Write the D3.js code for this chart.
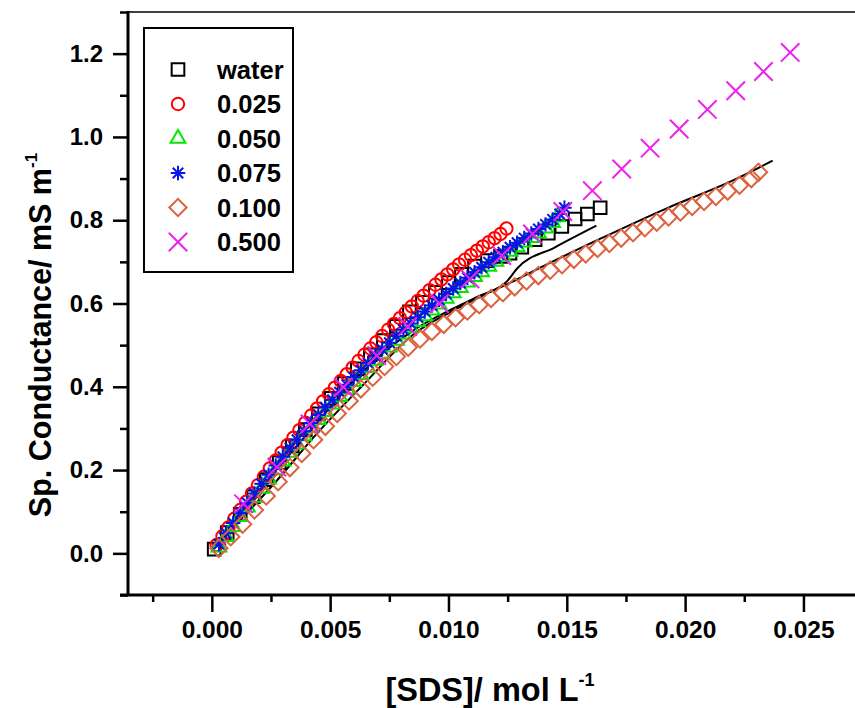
<!DOCTYPE html>
<html>
<head>
<meta charset="utf-8">
<script src="https://cdn.jsdelivr.net/npm/d3@7"></script>
<style>
  body { margin: 0; background: #fff; }
  svg { display: block; }
  text { font-family: "Liberation Sans", Arial, sans-serif; font-weight: bold; }
</style>
</head>
<body>
<svg id="chart" width="855" height="708"></svg>
<script>
// legend labels, in drawing order
var seriesNames = ['water', '0.025', '0.050', '0.075', '0.100', '0.500']

var yMajor = [0, 0.2, 0.4, 0.6, 0.8, 1.0, 1.2]
var yMinor = [-0.1, 0.1, 0.3, 0.5, 0.7, 0.9, 1.1, 1.3]
var xMajor = [0, 0.005, 0.010, 0.015, 0.020, 0.025]
var xMinor = [-0.0025, 0.0025, 0.0075, 0.0125, 0.0175, 0.0225]

// water
var waterX = [0.0001, 0.00065, 0.0012, 0.00175, 0.0023, 0.00285, 0.0034, 0.00395, 0.0045, 0.00505,
  0.0056, 0.00615, 0.0067, 0.00725, 0.0078, 0.00835, 0.0089, 0.00945, 0.0100, 0.01055,
  0.0111, 0.01165, 0.0122, 0.0126, 0.0131, 0.01366, 0.01422, 0.01479, 0.01535, 0.01587, 0.01641]
var waterY = [0.01, 0.05, 0.094, 0.136, 0.177, 0.218, 0.258, 0.297, 0.335, 0.372,
  0.408, 0.443, 0.477, 0.511, 0.545, 0.58, 0.603, 0.627, 0.65, 0.67,
  0.69, 0.703, 0.713, 0.721, 0.735, 0.753, 0.769, 0.785, 0.803, 0.815, 0.830]

// 0.025
var s025X = [0.0002, 0.00045, 0.0007, 0.00095, 0.0012, 0.00145, 0.0017, 0.00195, 0.0022, 0.00245,
  0.0027, 0.00295, 0.0032, 0.00345, 0.0037, 0.00395, 0.0042, 0.00445, 0.0047, 0.00495,
  0.0052, 0.00545, 0.0057, 0.00595, 0.0062, 0.00645, 0.0067, 0.00695, 0.0072, 0.00745,
  0.0077, 0.00795, 0.0082, 0.00845, 0.0087, 0.00895, 0.0092, 0.00945, 0.0097, 0.00995,
  0.0102, 0.01045, 0.0107, 0.01095, 0.0112, 0.01145, 0.0117, 0.01195, 0.0122, 0.01245]
var s025Y = [0.02, 0.041, 0.062, 0.083, 0.104, 0.124, 0.144, 0.164, 0.184, 0.204,
  0.223, 0.242, 0.26, 0.278, 0.296, 0.314, 0.331, 0.348, 0.365, 0.382,
  0.398, 0.414, 0.43, 0.446, 0.462, 0.477, 0.492, 0.507, 0.522, 0.537,
  0.551, 0.565, 0.579, 0.593, 0.606, 0.619, 0.632, 0.645, 0.658, 0.67,
  0.682, 0.694, 0.705, 0.716, 0.727, 0.737, 0.747, 0.757, 0.767, 0.78]

// 0.050
var s050X = [0.0003, 0.0006, 0.0009, 0.0012, 0.0015, 0.0018, 0.0021, 0.0024, 0.0027, 0.003,
  0.0033, 0.0036, 0.0039, 0.0042, 0.0045, 0.0048, 0.0051, 0.0054, 0.0057, 0.006,
  0.0063, 0.0066, 0.0069, 0.0072, 0.0075, 0.0078, 0.0081, 0.0084, 0.0087, 0.009,
  0.0093, 0.0096, 0.0099, 0.0102, 0.0105, 0.0108, 0.0111, 0.0114, 0.0117, 0.012,
  0.0123, 0.0126, 0.0129, 0.0132, 0.0135, 0.0138, 0.0141, 0.0144, 0.0146]
var s050Y = [0.015, 0.04, 0.064, 0.088, 0.111, 0.134, 0.156, 0.178, 0.2, 0.221,
  0.242, 0.262, 0.282, 0.302, 0.321, 0.34, 0.358, 0.376, 0.394, 0.412,
  0.429, 0.446, 0.463, 0.479, 0.495, 0.511, 0.526, 0.541, 0.556, 0.57,
  0.584, 0.598, 0.612, 0.625, 0.638, 0.651, 0.664, 0.676, 0.689, 0.701,
  0.713, 0.725, 0.736, 0.747, 0.758, 0.769, 0.781, 0.794, 0.808]

// 0.075
var s075X = [0.0003, 0.0006, 0.0009, 0.0012, 0.0015, 0.0018, 0.0021, 0.0024, 0.0027, 0.003,
  0.0033, 0.0036, 0.0039, 0.0042, 0.0045, 0.0048, 0.0051, 0.0054, 0.0057, 0.006,
  0.0063, 0.0066, 0.0069, 0.0072, 0.0075, 0.0078, 0.0081, 0.0084, 0.0087, 0.009,
  0.0093, 0.0096, 0.0099, 0.0102, 0.0105, 0.0108, 0.0111, 0.0114, 0.0117, 0.012,
  0.0123, 0.0126, 0.0129, 0.0132, 0.0135, 0.0138, 0.0141, 0.0144, 0.0147, 0.0149]
var s075Y = [0.022, 0.048, 0.073, 0.097, 0.121, 0.144, 0.167, 0.189, 0.211, 0.232,
  0.253, 0.273, 0.293, 0.313, 0.332, 0.351, 0.369, 0.387, 0.405, 0.423,
  0.44, 0.457, 0.474, 0.49, 0.506, 0.522, 0.537, 0.552, 0.567, 0.581,
  0.595, 0.609, 0.623, 0.636, 0.649, 0.662, 0.675, 0.687, 0.699, 0.711,
  0.723, 0.735, 0.746, 0.757, 0.768, 0.779, 0.79, 0.802, 0.815, 0.83]

// 0.100
var s100X = [0.0003, 0.0008, 0.0013, 0.0018, 0.0023, 0.0028, 0.0033, 0.0038, 0.0043, 0.0048,
  0.0053, 0.0058, 0.0063, 0.0068, 0.0073, 0.0078, 0.0083, 0.0088, 0.0093, 0.0098,
  0.0103, 0.0108, 0.0113, 0.0118, 0.0123, 0.0128, 0.0133, 0.0138, 0.0143, 0.0148,
  0.0153, 0.0158, 0.0163, 0.0168, 0.0173, 0.0178, 0.0183, 0.0188, 0.0193, 0.0198,
  0.0203, 0.0208, 0.0213, 0.0218, 0.0223, 0.0228, 0.0231]
var s100Y = [0.012, 0.04, 0.07, 0.104, 0.138, 0.172, 0.206, 0.24, 0.273, 0.305,
  0.336, 0.366, 0.395, 0.423, 0.449, 0.473, 0.495, 0.515, 0.533, 0.55,
  0.566, 0.582, 0.597, 0.612, 0.626, 0.64, 0.654, 0.667, 0.68, 0.693,
  0.706, 0.719, 0.732, 0.744, 0.757, 0.77, 0.782, 0.795, 0.808, 0.82,
  0.833, 0.845, 0.857, 0.87, 0.884, 0.90, 0.915]

// 0.500
var s500X = [0.00134, 0.00275, 0.00415, 0.00556, 0.00697, 0.00828, 0.00962, 0.01091, 0.01225, 0.01355,
  0.01483, 0.01608, 0.01732, 0.01852, 0.01975, 0.02094, 0.02214, 0.02331, 0.02444]
var s500Y = [0.119, 0.207, 0.311, 0.399, 0.475, 0.545, 0.600, 0.659, 0.715, 0.767,
  0.821, 0.871, 0.923, 0.973, 1.019, 1.066, 1.111, 1.157, 1.203]

// fitted curves (black lines)
var fitAX = [0, 0.00275, 0.0044, 0.0064, 0.0085, 0.0101, 0.0113, 0.0128, 0.0142, 0.0164, 0.0192, 0.0220, 0.0237]
var fitAY = [0.01, 0.175, 0.285, 0.405, 0.525, 0.58, 0.615, 0.655, 0.695, 0.755, 0.828, 0.895, 0.943]
var fitBX = [0, 0.004, 0.0072, 0.0085, 0.0101, 0.0113, 0.0125, 0.0129, 0.0145, 0.01625]
var fitBY = [0.01, 0.285, 0.48, 0.535, 0.585, 0.618, 0.655, 0.684, 0.735, 0.787]

function zip(xs, ys) { return xs.map((x, i) => ({ x: x, y: ys[i] })) }

var crossType = {
  draw(ctx, size) {
    var r = Math.sqrt(size) / 2
    ctx.moveTo(-r, -r); ctx.lineTo(r, r)
    ctx.moveTo(-r, r); ctx.lineTo(r, -r)
  }
}
var starType = {
  draw(ctx, size) {
    var r = Math.sqrt(size) / 2, d = r * 0.72
    ctx.moveTo(0, -r); ctx.lineTo(0, r)
    ctx.moveTo(-r, 0); ctx.lineTo(r, 0)
    ctx.moveTo(-d, -d); ctx.lineTo(d, d)
    ctx.moveTo(-d, d); ctx.lineTo(d, -d)
  }
}

var series = [
  { data: zip(waterX, waterY), color: '#000000', type: d3.symbolSquare, size: 160, rot: 0 },
  { data: zip(s025X, s025Y), color: '#ff0000', type: d3.symbolCircle, size: 120, rot: 0 },
  { data: zip(s050X, s050Y), color: '#00e800', type: d3.symbolTriangle, size: 95, rot: 0 },
  { data: zip(s075X, s075Y), color: '#0a14e6', type: starType, size: 210, rot: 0 },
  { data: zip(s100X, s100Y), color: '#dc6240', type: d3.symbolSquare, size: 150, rot: 45 },
  { data: zip(s500X, s500Y), color: '#ee22ee', type: crossType, size: 340, rot: 0 }
]

var svg = d3.select('#chart')
var xScale = d3.scaleLinear().domain([-0.0035, 0.0275]).range([129, 862.6])
var yScale = d3.scaleLinear().domain([-0.1, 1.3]).range([595, 12])

// top frame line
svg.append('line')
  .attr('x1', 128).attr('x2', 862).attr('y1', yScale(1.3)).attr('y2', yScale(1.3))
  .attr('stroke', '#000').attr('stroke-width', 1.5)

// y axis
var yAxisG = svg.append('g').attr('transform', 'translate(128,0)')
yAxisG.append('g').call(d3.axisLeft(yScale).tickValues(yMinor).tickSize(8).tickSizeOuter(0).tickFormat(''))
yAxisG.append('g').call(d3.axisLeft(yScale).tickValues(yMajor).tickSize(15).tickSizeOuter(0)
  .tickPadding(10).tickFormat(d3.format('.1f')))
yAxisG.selectAll('.domain').remove()
yAxisG.selectAll('.tick line').attr('stroke-width', 2.5)
yAxisG.selectAll('.tick text').attr('font-size', 24).attr('fill', '#000')
  .style('font-family', '"Liberation Sans", Arial, sans-serif').style('font-weight', 'bold')
yAxisG.append('line').attr('x1', 0).attr('x2', 0).attr('y1', yScale(1.3) - 1).attr('y2', yScale(-0.1) + 1)
  .attr('stroke', '#000').attr('stroke-width', 3)

// x axis
var xAxisG = svg.append('g').attr('transform', 'translate(0,' + yScale(-0.1) + ')')
xAxisG.append('g').call(d3.axisBottom(xScale).tickValues(xMinor).tickSize(7).tickSizeOuter(0).tickFormat(''))
xAxisG.append('g').call(d3.axisBottom(xScale).tickValues(xMajor).tickSize(17).tickSizeOuter(0)
  .tickPadding(9).tickFormat(d3.format('.3f')))
xAxisG.selectAll('.domain').remove()
xAxisG.selectAll('.tick line').attr('stroke-width', 2.5)
xAxisG.selectAll('.tick text').attr('font-size', 24.5).attr('fill', '#000')
  .style('font-family', '"Liberation Sans", Arial, sans-serif').style('font-weight', 'bold')
xAxisG.append('line').attr('x1', 120).attr('x2', 862).attr('y1', 0).attr('y2', 0)
  .attr('stroke', '#000').attr('stroke-width', 3)

var plot = svg.append('g')

// fit lines (under the markers)
var line = d3.line().x(d => xScale(d.x)).y(d => yScale(d.y)).curve(d3.curveMonotoneX)
;[zip(fitAX, fitAY), zip(fitBX, fitBY)].forEach(function (f) {
  plot.append('path').attr('d', line(f)).attr('fill', 'none').attr('stroke', '#000').attr('stroke-width', 2)
})

// markers
series.forEach(function (s) {
  var sym = d3.symbol().type(s.type).size(s.size)
  plot.append('g').selectAll('path')
    .data(s.data)
    .enter()
    .append('path')
    .attr('d', sym)
    .attr('transform', d => 'translate(' + xScale(d.x) + ',' + yScale(d.y) + ') rotate(' + s.rot + ')')
    .attr('fill', 'none')
    .attr('stroke', s.color)
    .attr('stroke-width', 2)
})

// legend
var legend = svg.append('g')
legend.append('rect').attr('x', 144).attr('y', 28).attr('width', 149).attr('height', 244)
  .attr('fill', '#fff').attr('stroke', '#000').attr('stroke-width', 2)
series.forEach(function (s, i) {
  var cy = 69.5 + i * 34.5
  legend.append('path')
    .attr('d', d3.symbol().type(s.type).size(s.size)())
    .attr('transform', 'translate(178,' + cy + ') rotate(' + s.rot + ')')
    .attr('fill', 'none').attr('stroke', s.color).attr('stroke-width', 2)
  legend.append('text').attr('x', 217).attr('y', cy + 9).attr('font-size', 25.5).text(seriesNames[i])
})

// axis titles
var yTitle = svg.append('text').attr('transform', 'translate(51,335) rotate(-90)')
  .attr('text-anchor', 'middle').attr('font-size', 30.5)
yTitle.append('tspan').text('Sp. Conductance/ mS m')
yTitle.append('tspan').attr('font-size', 17).attr('dy', -14).text('-1')

var xTitle = svg.append('text').attr('x', 490).attr('y', 701)
  .attr('text-anchor', 'middle').attr('font-size', 32.5)
xTitle.append('tspan').text('[SDS]/ mol L')
xTitle.append('tspan').attr('font-size', 18).attr('dy', -15).text('-1')
</script>
</body>
</html>
